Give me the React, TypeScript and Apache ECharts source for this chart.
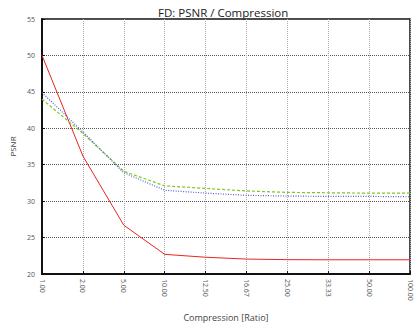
import React, { useEffect, useRef } from "react";
import * as echarts from "echarts";

const categories = ["1.00", "2.00", "5.00", "10.00", "12.50", "16.67", "25.00", "33.33", "50.00", "100.00"];
const redValues = [50.0, 36.2, 26.7, 22.7, 22.3, 22.05, 21.97, 21.95, 21.95, 21.95];
const greenValues = [44.0, 39.3, 34.1, 32.1, 31.75, 31.4, 31.2, 31.15, 31.1, 31.1];
const blueValues = [44.9, 39.5, 33.9, 31.5, 31.1, 30.8, 30.7, 30.65, 30.65, 30.6];

export default function App() {
  const ref = useRef<HTMLDivElement>(null);
  useEffect(() => {
    const chart = echarts.init(ref.current!, null, { renderer: "svg" });
    const font = "'Open Sans', 'DejaVu Sans', sans-serif";
    chart.setOption({
      animation: false,
      textStyle: { fontFamily: font },
      title: {
        text: "FD: PSNR / Compression",
        left: 153,
        top: 1,
        textStyle: { fontSize: 11.5, fontWeight: "normal", color: "#222", fontFamily: font },
      },
      grid: {
        left: 42,
        right: 6,
        top: 19,
        bottom: 53,
        show: true,
        borderColor: "#111",
        borderWidth: 1.5,
        backgroundColor: "transparent",
      },
      xAxis: {
        type: "category",
        data: categories,
        boundaryGap: false,
        name: "Compression [Ratio]",
        nameLocation: "middle",
        nameGap: 39,
        nameTextStyle: { fontSize: 9, color: "#444", fontFamily: font },
        axisLine: { lineStyle: { color: "#111", width: 2 } },
        axisTick: { show: true, inside: true, length: 3, lineStyle: { color: "#111" } },
        axisLabel: { rotate: -90, fontSize: 7, color: "#555", margin: 5, fontFamily: font },
        splitLine: { show: true, lineStyle: { color: "#aaa", type: [1, 1], width: 1 } },
      },
      yAxis: {
        type: "value",
        min: 20,
        max: 55,
        interval: 5,
        name: "PSNR",
        nameLocation: "middle",
        nameGap: 23,
        nameRotate: 90,
        nameTextStyle: { fontSize: 8, color: "#444", fontFamily: font },
        axisLine: { show: true, lineStyle: { color: "#111", width: 2 } },
        axisTick: { show: true, inside: true, length: 3, lineStyle: { color: "#111" } },
        axisLabel: { fontSize: 7, color: "#555", margin: 7, fontFamily: font },
        splitLine: { show: true, lineStyle: { color: "#555", type: [1, 1], width: 1 } },
      },
      series: [
        {
          type: "line",
          data: redValues,
          symbol: "none",
          lineStyle: { color: "#e8261e", width: 1, type: "solid" },
        },
        {
          type: "line",
          data: greenValues,
          symbol: "none",
          lineStyle: { color: "#7cc91a", width: 1.2, type: [3, 2] },
        },
        {
          type: "line",
          data: blueValues,
          symbol: "none",
          lineStyle: { color: "#5a5ad8", width: 1.2, type: [1, 1.5] },
        },
      ],
    });
    return () => chart.dispose();
  }, []);
  return <div ref={ref} style={{ width: 416, height: 327, position: "absolute", left: 0, top: 0 }} />;
}
